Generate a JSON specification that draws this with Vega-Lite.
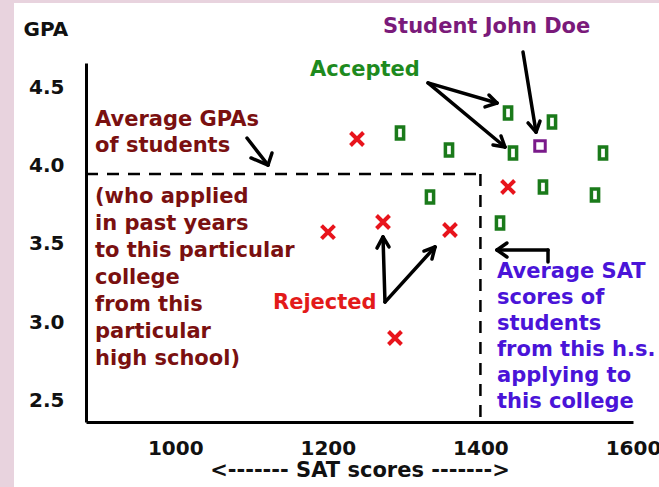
{
  "$schema": "https://vega.github.io/schema/vega-lite/v6.json",
  "width": 547,
  "height": 359,
  "autosize": {"type": "none"},
  "padding": {"left": 86, "top": 63, "right": 26, "bottom": 65},
  "background": "#e8d3de",
  "config": {"view": {"stroke": null}, "font": "DejaVu Sans"},
  "datasets": {
    "panel": [{"sat": 788.6, "sat_end": 1700, "gpa": 1.8, "gpa_end": 5.035}],
    "averages": [
      {"sat": 883, "gpa": 3.946, "sat_end": 1400, "gpa_end": 3.946},
      {"sat": 1400, "gpa": 3.946, "sat_end": 1400, "gpa_end": 2.366}
    ],
    "arrows": [
      {"sat": 1094.0, "gpa": 4.175, "sat_end": 1121.6, "gpa_end": 4.003},
      {"sat": 1121.6, "gpa": 4.003, "sat_end": 1099.3, "gpa_end": 4.048},
      {"sat": 1121.6, "gpa": 4.003, "sat_end": 1126.8, "gpa_end": 4.080},
      {"sat": 1331.3, "gpa": 4.526, "sat_end": 1421.7, "gpa_end": 4.398},
      {"sat": 1421.7, "gpa": 4.398, "sat_end": 1411.2, "gpa_end": 4.449},
      {"sat": 1421.7, "gpa": 4.398, "sat_end": 1406.0, "gpa_end": 4.373},
      {"sat": 1331.3, "gpa": 4.526, "sat_end": 1432.2, "gpa_end": 4.118},
      {"sat": 1432.2, "gpa": 4.118, "sat_end": 1427.0, "gpa_end": 4.188},
      {"sat": 1432.2, "gpa": 4.118, "sat_end": 1416.5, "gpa_end": 4.131},
      {"sat": 1455.8, "gpa": 4.723, "sat_end": 1472.9, "gpa_end": 4.213},
      {"sat": 1472.9, "gpa": 4.213, "sat_end": 1478.1, "gpa_end": 4.283},
      {"sat": 1472.9, "gpa": 4.213, "sat_end": 1462.4, "gpa_end": 4.271},
      {"sat": 1274.9, "gpa": 3.130, "sat_end": 1272.3, "gpa_end": 3.545},
      {"sat": 1272.3, "gpa": 3.545, "sat_end": 1264.4, "gpa_end": 3.474},
      {"sat": 1272.3, "gpa": 3.545, "sat_end": 1280.2, "gpa_end": 3.481},
      {"sat": 1274.9, "gpa": 3.130, "sat_end": 1340.5, "gpa_end": 3.481},
      {"sat": 1340.5, "gpa": 3.481, "sat_end": 1326.0, "gpa_end": 3.455},
      {"sat": 1340.5, "gpa": 3.481, "sat_end": 1336.5, "gpa_end": 3.404},
      {"sat": 1488.6, "gpa": 3.385, "sat_end": 1488.6, "gpa_end": 3.462},
      {"sat": 1488.6, "gpa": 3.462, "sat_end": 1421.7, "gpa_end": 3.462},
      {"sat": 1421.7, "gpa": 3.462, "sat_end": 1434.8, "gpa_end": 3.506},
      {"sat": 1421.7, "gpa": 3.462, "sat_end": 1434.8, "gpa_end": 3.417}
    ],
    "students": [
      {"sat": 1436.2, "gpa": 4.334, "outcome": "Accepted"},
      {"sat": 1493.8, "gpa": 4.277, "outcome": "Accepted"},
      {"sat": 1294.6, "gpa": 4.207, "outcome": "Accepted"},
      {"sat": 1358.8, "gpa": 4.099, "outcome": "Accepted"},
      {"sat": 1442.7, "gpa": 4.080, "outcome": "Accepted"},
      {"sat": 1560.7, "gpa": 4.080, "outcome": "Accepted"},
      {"sat": 1482.0, "gpa": 3.863, "outcome": "Accepted"},
      {"sat": 1550.2, "gpa": 3.812, "outcome": "Accepted"},
      {"sat": 1333.9, "gpa": 3.799, "outcome": "Accepted"},
      {"sat": 1425.7, "gpa": 3.634, "outcome": "Accepted"},
      {"sat": 1238.2, "gpa": 4.169, "outcome": "Rejected"},
      {"sat": 1436.2, "gpa": 3.863, "outcome": "Rejected"},
      {"sat": 1272.3, "gpa": 3.640, "outcome": "Rejected"},
      {"sat": 1360.1, "gpa": 3.589, "outcome": "Rejected"},
      {"sat": 1200.2, "gpa": 3.576, "outcome": "Rejected"},
      {"sat": 1288.0, "gpa": 2.901, "outcome": "Rejected"},
      {"sat": 1478.1, "gpa": 4.124, "outcome": "John Doe"}
    ],
    "notes": [
      {"sat": 1272.3, "gpa": 4.844, "label": "Student John Doe", "group": "john", "block": "a"},
      {"sat": 1176.6, "gpa": 4.570, "label": "Accepted", "group": "accepted", "block": "a"},
      {"sat": 894.8, "gpa": 4.252, "label": "Average GPAs\nof students", "group": "maroon", "block": "a"},
      {"sat": 894.8, "gpa": 3.761, "label": "(who applied\nin past years\nto this particular\ncollege\nfrom this\nparticular\nhigh school)", "group": "maroon", "block": "b"},
      {"sat": 1128.1, "gpa": 3.086, "label": "Rejected", "group": "rejected", "block": "a"},
      {"sat": 1421.7, "gpa": 3.283, "label": "Average SAT\nscores of\nstudents\nfrom this h.s.\napplying to\nthis college", "group": "blue", "block": "a"}
    ]
  },
  "encoding": {
    "x": {
      "field": "sat", "type": "quantitative",
      "scale": {"domain": [883, 1600], "nice": false, "zero": false},
      "axis": {
        "title": "<------- SAT scores ------->",
        "values": [1000, 1200, 1400, 1600], "format": "d",
        "ticks": false, "tickSize": 0, "grid": false,
        "domainColor": "#000000", "domainWidth": 3,
        "labelFont": "DejaVu Sans", "labelFontWeight": "bold", "labelFontSize": 20, "labelColor": "#111111",
        "labelPadding": 16, "labelFlush": false, "labelOverlap": false, "labelBound": false,
        "titleFont": "DejaVu Sans", "titleFontWeight": "bold", "titleFontSize": 21, "titleColor": "#111111",
        "titleY": 54, "titleBaseline": "alphabetic", "zindex": 2
      }
    },
    "y": {
      "field": "gpa", "type": "quantitative",
      "scale": {"domain": [2.366, 4.653], "nice": false, "zero": false},
      "axis": {
        "title": "GPA", "titleAngle": 0, "titleX": -63, "titleY": -28, "titleAlign": "left", "titleBaseline": "alphabetic",
        "values": [2.5, 3.0, 3.5, 4.0, 4.5], "format": ".1f",
        "ticks": false, "tickSize": 0, "grid": false,
        "domainColor": "#000000", "domainWidth": 3,
        "labelFont": "DejaVu Sans", "labelFontWeight": "bold", "labelFontSize": 20, "labelColor": "#111111",
        "labelPadding": 22, "labelOverlap": false, "labelBound": false,
        "titleFont": "DejaVu Sans", "titleFontWeight": "bold", "titleFontSize": 20, "titleColor": "#111111",
        "zindex": 2
      }
    }
  },
  "layer": [
    {
      "data": {"name": "panel"},
      "mark": {"type": "rect", "fill": "#ffffff", "clip": false},
      "encoding": {"x2": {"field": "sat_end"}, "y2": {"field": "gpa_end"}}
    },
    {
      "data": {"name": "averages"},
      "mark": {"type": "rule", "color": "#000000", "strokeWidth": 2.5, "strokeDash": [12, 9]},
      "encoding": {"x2": {"field": "sat_end"}, "y2": {"field": "gpa_end"}}
    },
    {
      "data": {"name": "arrows"},
      "mark": {"type": "rule", "color": "#000000", "strokeWidth": 3.5, "strokeCap": "round"},
      "encoding": {"x2": {"field": "sat_end"}, "y2": {"field": "gpa_end"}}
    },
    {
      "data": {"name": "students"},
      "transform": [{"filter": "datum.outcome === 'Accepted'"}],
      "mark": {"type": "point", "shape": "M-0.6,-1H0.6V1H-0.6Z", "size": 144, "filled": false, "stroke": "#1a7a1a", "strokeWidth": 3.5, "opacity": 1}
    },
    {
      "data": {"name": "students"},
      "transform": [{"filter": "datum.outcome === 'Rejected'"}],
      "mark": {"type": "point", "shape": "M-1,-1L1,1M1,-1L-1,1", "size": 169, "filled": false, "stroke": "#e8141c", "strokeWidth": 4, "opacity": 1}
    },
    {
      "data": {"name": "students"},
      "transform": [{"filter": "datum.outcome === 'John Doe'"}],
      "mark": {"type": "point", "shape": "square", "size": 110, "filled": false, "stroke": "#7a1a8a", "strokeWidth": 3, "opacity": 1}
    },
    {
      "data": {"name": "notes"},
      "transform": [{"filter": "datum.block === 'a'"}],
      "mark": {"type": "text", "font": "DejaVu Sans", "fontWeight": "bold", "fontSize": 21, "align": "left", "baseline": "alphabetic", "lineBreak": "\n", "lineHeight": 26},
      "encoding": {
        "text": {"field": "label"},
        "color": {"field": "group", "type": "nominal", "legend": null,
          "scale": {"domain": ["john", "accepted", "maroon", "rejected", "blue"], "range": ["#7a1a7a", "#1e8a1e", "#7a1010", "#e31a1a", "#4a14d8"]}}
      }
    },
    {
      "data": {"name": "notes"},
      "transform": [{"filter": "datum.block === 'b'"}],
      "mark": {"type": "text", "font": "DejaVu Sans", "fontWeight": "bold", "fontSize": 21, "align": "left", "baseline": "alphabetic", "lineBreak": "\n", "lineHeight": 27},
      "encoding": {
        "text": {"field": "label"},
        "color": {"field": "group", "type": "nominal", "legend": null,
          "scale": {"domain": ["john", "accepted", "maroon", "rejected", "blue"], "range": ["#7a1a7a", "#1e8a1e", "#7a1010", "#e31a1a", "#4a14d8"]}}
      }
    }
  ]
}
